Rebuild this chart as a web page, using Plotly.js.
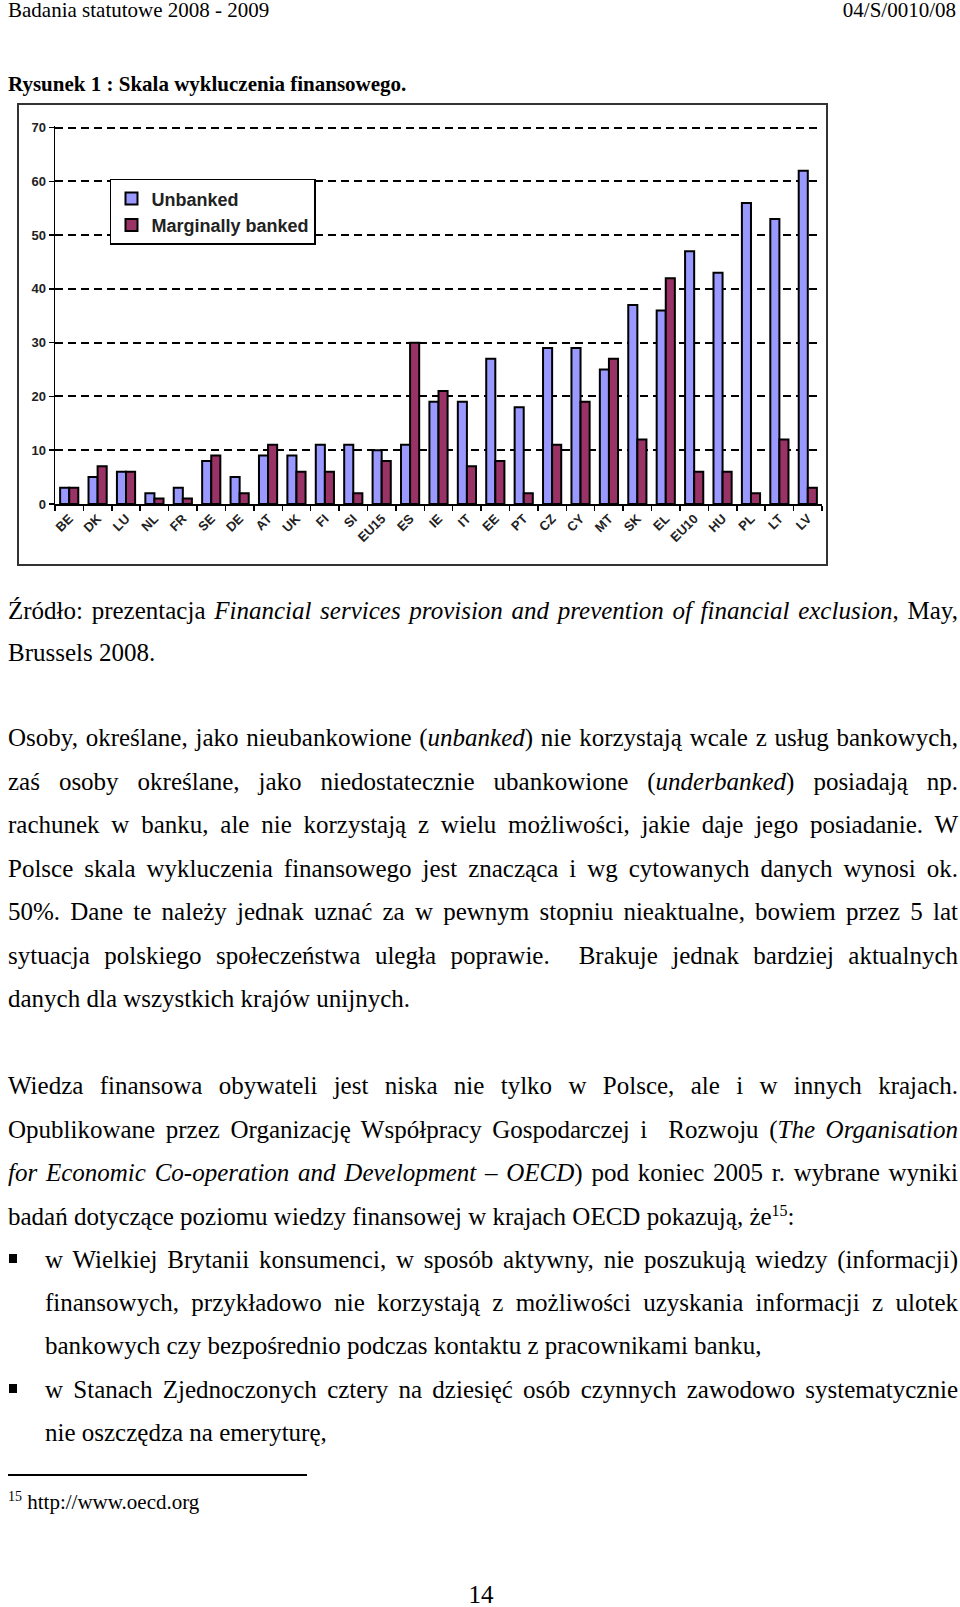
<!DOCTYPE html>
<html>
<head>
<meta charset="utf-8">
<script src="https://cdn.plot.ly/plotly-3.0.1.min.js"></script>
<style>
  html, body { margin: 0; padding: 0; background: #fff; }
  body { width: 960px; height: 1607px; position: relative; overflow: hidden;
         font-family: "Liberation Serif", "Times New Roman", serif; color: #000; }
  .t { position: absolute; left: 8px; width: 950px; font-size: 25px; line-height: 30px; white-space: nowrap; }
  .j { text-align: justify; text-align-last: justify; white-space: normal; }
  .b { left: 45px; width: 913px; }
  .sq { position: absolute; left: 9px; width: 8px; height: 9px; background: #000; }
  #chartbox { position: absolute; left: 17px; top: 103px; width: 811px; height: 463px;
              box-sizing: border-box; border: 2px solid #333; background: #fff; }
  #chart { position: absolute; left: 0; top: 0; width: 807px; height: 459px; }
</style>
</head>
<body>

<div class="t" style="top:-3px;font-size:21px;line-height:26px;">Badania statutowe 2008 - 2009</div>
<div class="t" style="top:-3px;font-size:21px;line-height:26px;text-align:right;width:948px;">04/S/0010/08</div>

<div class="t" style="top:71px;font-size:21px;line-height:26px;font-weight:bold;">Rysunek 1 : Skala wykluczenia finansowego.</div>

<div id="chartbox"><div id="chart"></div></div>

<div class="t j" style="top:596px;">Źródło: prezentacja <i>Financial services provision and prevention of financial exclusion</i>, May,</div>
<div class="t" style="top:638px;">Brussels 2008.</div>

<div class="t j" style="top:723px;">Osoby, określane, jako nieubankowione (<i>unbanked</i>) nie korzystają wcale z usług bankowych,</div>
<div class="t j" style="top:767px;">zaś osoby określane, jako niedostatecznie ubankowione (<i>underbanked</i>) posiadają np.</div>
<div class="t j" style="top:810px;">rachunek w banku, ale nie korzystają z wielu możliwości, jakie daje jego posiadanie. W</div>
<div class="t j" style="top:854px;">Polsce skala wykluczenia finansowego jest znacząca i wg cytowanych danych wynosi ok.</div>
<div class="t j" style="top:897px;">50%. Dane te należy jednak uznać za w pewnym stopniu nieaktualne, bowiem przez 5 lat</div>
<div class="t j" style="top:941px;">sytuacja polskiego społeczeństwa uległa poprawie.&nbsp; Brakuje jednak bardziej aktualnych</div>
<div class="t" style="top:984px;">danych dla wszystkich krajów unijnych.</div>

<div class="t j" style="top:1071px;">Wiedza finansowa obywateli jest niska nie tylko w Polsce, ale i w innych krajach.</div>
<div class="t j" style="top:1115px;">Opublikowane przez Organizację Współpracy Gospodarczej i&nbsp; Rozwoju (<i>The Organisation</i></div>
<div class="t j" style="top:1158px;"><i>for Economic Co-operation and Development – OECD</i>) pod koniec 2005 r. wybrane wyniki</div>
<div class="t" style="top:1202px;">badań dotyczące poziomu wiedzy finansowej w krajach OECD pokazują, że<sup style="font-size:16px;line-height:0;">15</sup>:</div>

<div class="sq" style="top:1254px;"></div>
<div class="t j b" style="top:1245px;">w Wielkiej Brytanii konsumenci, w sposób aktywny, nie poszukują wiedzy (informacji)</div>
<div class="t j b" style="top:1288px;">finansowych, przykładowo nie korzystają z możliwości uzyskania informacji z ulotek</div>
<div class="t b" style="top:1331px;">bankowych czy bezpośrednio podczas kontaktu z pracownikami banku,</div>
<div class="sq" style="top:1384px;"></div>
<div class="t j b" style="top:1375px;">w Stanach Zjednoczonych cztery na dziesięć osób czynnych zawodowo systematycznie</div>
<div class="t b" style="top:1418px;">nie oszczędza na emeryturę,</div>

<div style="position:absolute;left:8px;top:1474px;width:299px;height:1.5px;background:#000;"></div>
<div class="t" style="top:1489px;font-size:21px;line-height:26px;"><sup style="font-size:14px;line-height:0;">15</sup> http://www.oecd.org</div>

<div class="t" style="top:1580px;left:0;width:962px;text-align:center;">14</div>

<script>
const countries = ["BE","DK","LU","NL","FR","SE","DE","AT","UK","FI","SI","EU15","ES","IE","IT","EE","PT","CZ","CY","MT","SK","EL","EU10","HU","PL","LT","LV"];
const unbanked = [3,5,6,2,3,8,5,9,9,11,11,10,11,19,19,27,18,29,29,25,37,36,47,43,56,53,62];
const marginallyBanked = [3,7,6,1,1,9,2,11,6,6,2,8,30,21,7,8,2,11,19,27,12,42,6,6,2,12,3];
const seriesNames = ["Unbanked", "Marginally banked"];
const yTicks = [0,10,20,30,40,50,60,70];

const labelFont = { family: "Liberation Sans, Arial, sans-serif", size: 13, color: "#222", weight: "bold" };

const traces = [
  { type: "bar", name: seriesNames[0], x: countries, y: unbanked,
    marker: { color: "#9999FF", line: { color: "#000", width: 2 } }, hoverinfo: "skip" },
  { type: "bar", name: seriesNames[1], x: countries, y: marginallyBanked,
    marker: { color: "#993366", line: { color: "#000", width: 2 } }, hoverinfo: "skip" }
];

const layout = {
  width: 807, height: 459,
  margin: { l: 36, r: 4, t: 21, b: 60 },
  paper_bgcolor: "#fff", plot_bgcolor: "#fff",
  barmode: "group", bargap: 0.36, bargroupgap: 0,
  showlegend: true,
  legend: {
    x: 0.0717, y: 0.86, xanchor: "left", yanchor: "top",
    bgcolor: "#fff", bordercolor: "#000", borderwidth: 1.5,
    font: { family: "Liberation Sans, Arial, sans-serif", size: 18, color: "#222", weight: "bold" },
    tracegroupgap: 0
  },
  xaxis: {
    type: "category",
    showline: true, linecolor: "#000", linewidth: 2,
    ticks: "outside", tickson: "boundaries", ticklen: 5, tickwidth: 1.5, tickcolor: "#000",
    tickangle: -45, tickfont: labelFont,
    showgrid: false, zeroline: false, fixedrange: true
  },
  yaxis: {
    range: [0, 70.3], tickvals: yTicks, ticktext: yTicks.map(String),
    showline: true, linecolor: "#000", linewidth: 1.5,
    ticks: "outside", ticklen: 5, tickwidth: 1.5, tickcolor: "#000",
    tickfont: { family: "Liberation Sans, Arial, sans-serif", size: 13, color: "#222", weight: "bold" },
    showgrid: true, gridcolor: "#000", gridwidth: 2, griddash: "8px,5px",
    zeroline: false, fixedrange: true
  }
};

Plotly.newPlot("chart", traces, layout, { displayModeBar: false, staticPlot: true });
</script>
</body>
</html>
